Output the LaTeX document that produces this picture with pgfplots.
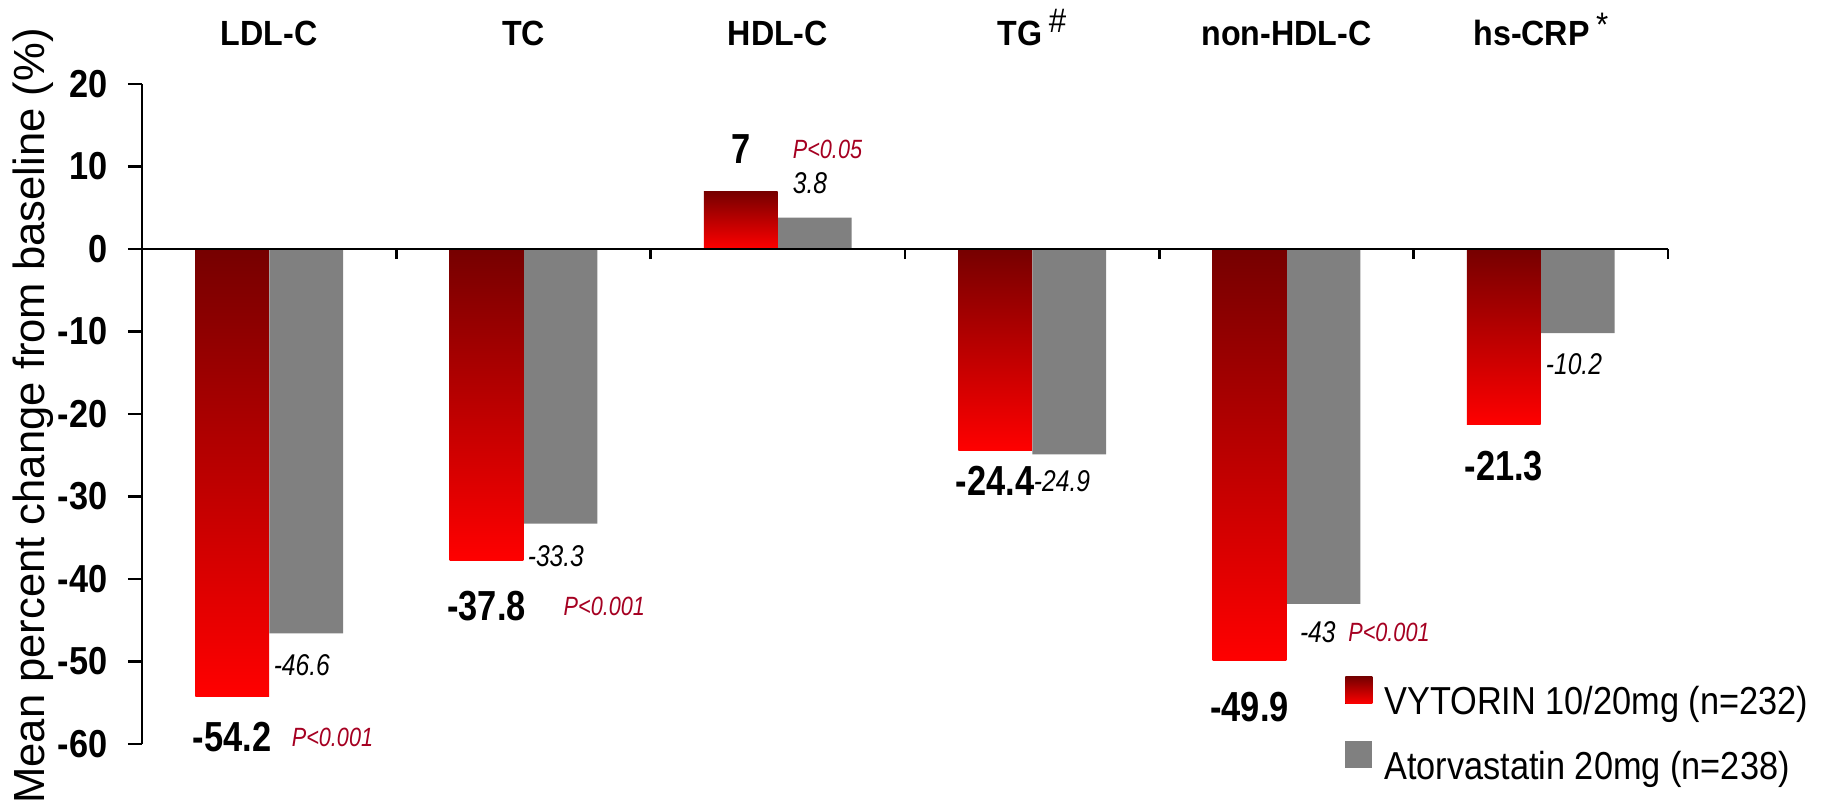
\documentclass[border=0pt]{standalone}
\usepackage{fontspec}
\setmainfont{Liberation Sans}
\newfontfamily\catfont[FakeStretch=0.92]{Liberation Sans}
\newfontfamily\tickfont[FakeStretch=0.88]{Liberation Sans}
\newfontfamily\valfont[FakeStretch=0.82]{Liberation Sans}
\usepackage{pgfplots}
\pgfplotsset{compat=1.18}

\definecolor{vdark}{RGB}{118,0,0}
\definecolor{vred}{RGB}{255,0,0}
\definecolor{atgray}{RGB}{128,128,128}
\definecolor{pred}{RGB}{165,0,33}

\pgfplotsset{
  sqlegend/.style={legend image code/.code={\fill[##1] (0pt,0pt) rectangle (6.75pt,6.75pt);}},
  redbar/.style={ybar, bar width=0.29, bar shift=-0.1455, draw=none,
    top color=vdark, bottom color=vred, sqlegend},
  graybar/.style={ybar, bar width=0.29, bar shift=0.1455, draw=none,
    fill=atgray, sqlegend},
}
\tikzset{
  cat/.style={anchor=base, inner sep=0pt, yshift=9.75pt,
    font=\catfont\bfseries\fontsize{8.75}{10}\selectfont},
  bval/.style={inner sep=0pt, font=\valfont\bfseries\fontsize{10.5}{12}\selectfont},
  gval/.style={anchor=west, inner sep=0pt, font=\valfont\itshape\fontsize{7.5}{9}\selectfont},
  pval/.style={anchor=west, inner sep=0pt, text=pred, font=\valfont\itshape\fontsize{6.6}{8}\selectfont},
}

\begin{document}
\begin{tikzpicture}
\begin{axis}[
  scale only axis,
  width=381.5pt, height=165pt,
  xmin=-0.5, xmax=5.5,
  ymin=-60, ymax=20,
  enlargelimits=false,
  clip=false,
  axis on top,
  axis y line*=left,
  axis x line*=middle,
  hide obscured x ticks=false,
  hide obscured y ticks=false,
  axis line style={line width=0.6pt},
  tick style={black, line width=0.6pt},
  tick align=outside,
  major tick length=3.5pt,
  ytick={-60,-50,...,20},
  xtick=\empty,
  extra x ticks={-0.5,0.5,1.5,2.5,3.5,4.5,5.5},
  extra x tick labels={},
  extra x tick style={major tick length=2.5pt, tick align=outside},
  /pgf/number format/assume math mode=true,
  yticklabel style={font=\tickfont\bfseries\fontsize{9.75}{11}\selectfont, inner sep=0pt, xshift=-5pt},
  ylabel={Mean percent change from baseline (\%)},
  ylabel style={at={(axis description cs:-0.0714,0.497)}, anchor=center,
    font=\fontsize{10.9}{12}\selectfont},
  legend style={at={(axis description cs:0.788,0.103)}, anchor=north west,
    draw=none, fill=none, inner sep=0pt, row sep=5.1pt, column sep=3pt,
    nodes={inner sep=0pt},
    font=\tickfont\fontsize{9.75}{11}\selectfont},
  legend cell align=left,
]
% VYTORIN bars, one plot each so every bar gets its own shading
\addplot[redbar] coordinates {(0,-54.2)};
\addlegendentry{VYTORIN 10/20mg (n=232)}
\addplot[graybar] coordinates {(0,-46.6) (1,-33.3) (2,3.8) (3,-24.9) (4,-43) (5,-10.2)};
\addlegendentry{Atorvastatin 20mg (n=238)}
\addplot[redbar, forget plot] coordinates {(1,-37.8)};
\addplot[redbar, forget plot] coordinates {(2,7)};
\addplot[redbar, forget plot] coordinates {(3,-24.4)};
\addplot[redbar, forget plot] coordinates {(4,-49.9)};
\addplot[redbar, forget plot] coordinates {(5,-21.3)};

% category names on top
\node[cat] at (axis cs:0,20) {LDL-C};
\node[cat] at (axis cs:1,20) {TC};
\node[cat] at (axis cs:2,20) {HDL-C};
\node[cat] at (axis cs:3,20) {TG\hspace{0.18em}\raisebox{0.36em}{\mdseries\fontsize{8.5}{9}\selectfont\#}};
\node[cat] at (axis cs:4,20) {non-HDL-C};
\node[cat] at (axis cs:5,20) {hs-CRP\hspace{0.18em}\raisebox{0.25em}{\mdseries\fontsize{8.5}{9}\selectfont*}};

% value labels
\node[bval] at (axis cs:-0.1455,-59.2) {-54.2};
\node[pval] at (axis cs:0.086,-59.2) {P<0.001};
\node[gval] at (axis cs:0.015,-50.5) {-46.6};

\node[bval] at (axis cs:0.8545,-43.3) {-37.8};
\node[pval] at (axis cs:1.155,-43.3) {P<0.001};
\node[gval] at (axis cs:1.014,-37.2) {-33.3};

\node[bval] at (axis cs:1.8545,12.1) {7};
\node[pval] at (axis cs:2.056,12.1) {P<0.05};
\node[gval] at (axis cs:2.056,8.0) {3.8};

\node[bval] at (axis cs:2.8545,-28.1) {-24.4};
\node[gval] at (axis cs:3.004,-28.1) {-24.9};

\node[bval] at (axis cs:3.8545,-55.5) {-49.9};
\node[gval] at (axis cs:4.05,-46.5) {-43};
\node[pval] at (axis cs:4.24,-46.5) {P<0.001};

\node[bval] at (axis cs:4.8545,-26.3) {-21.3};
\node[gval] at (axis cs:5.017,-14.0) {-10.2};

\coordinate (sw) at (rel axis cs:0,0);
\end{axis}
\pgfresetboundingbox
\path[use as bounding box] (sw) ++(-35.5pt,-14.75pt) rectangle ++(456.75pt,200.75pt);
\end{tikzpicture}
\end{document}
